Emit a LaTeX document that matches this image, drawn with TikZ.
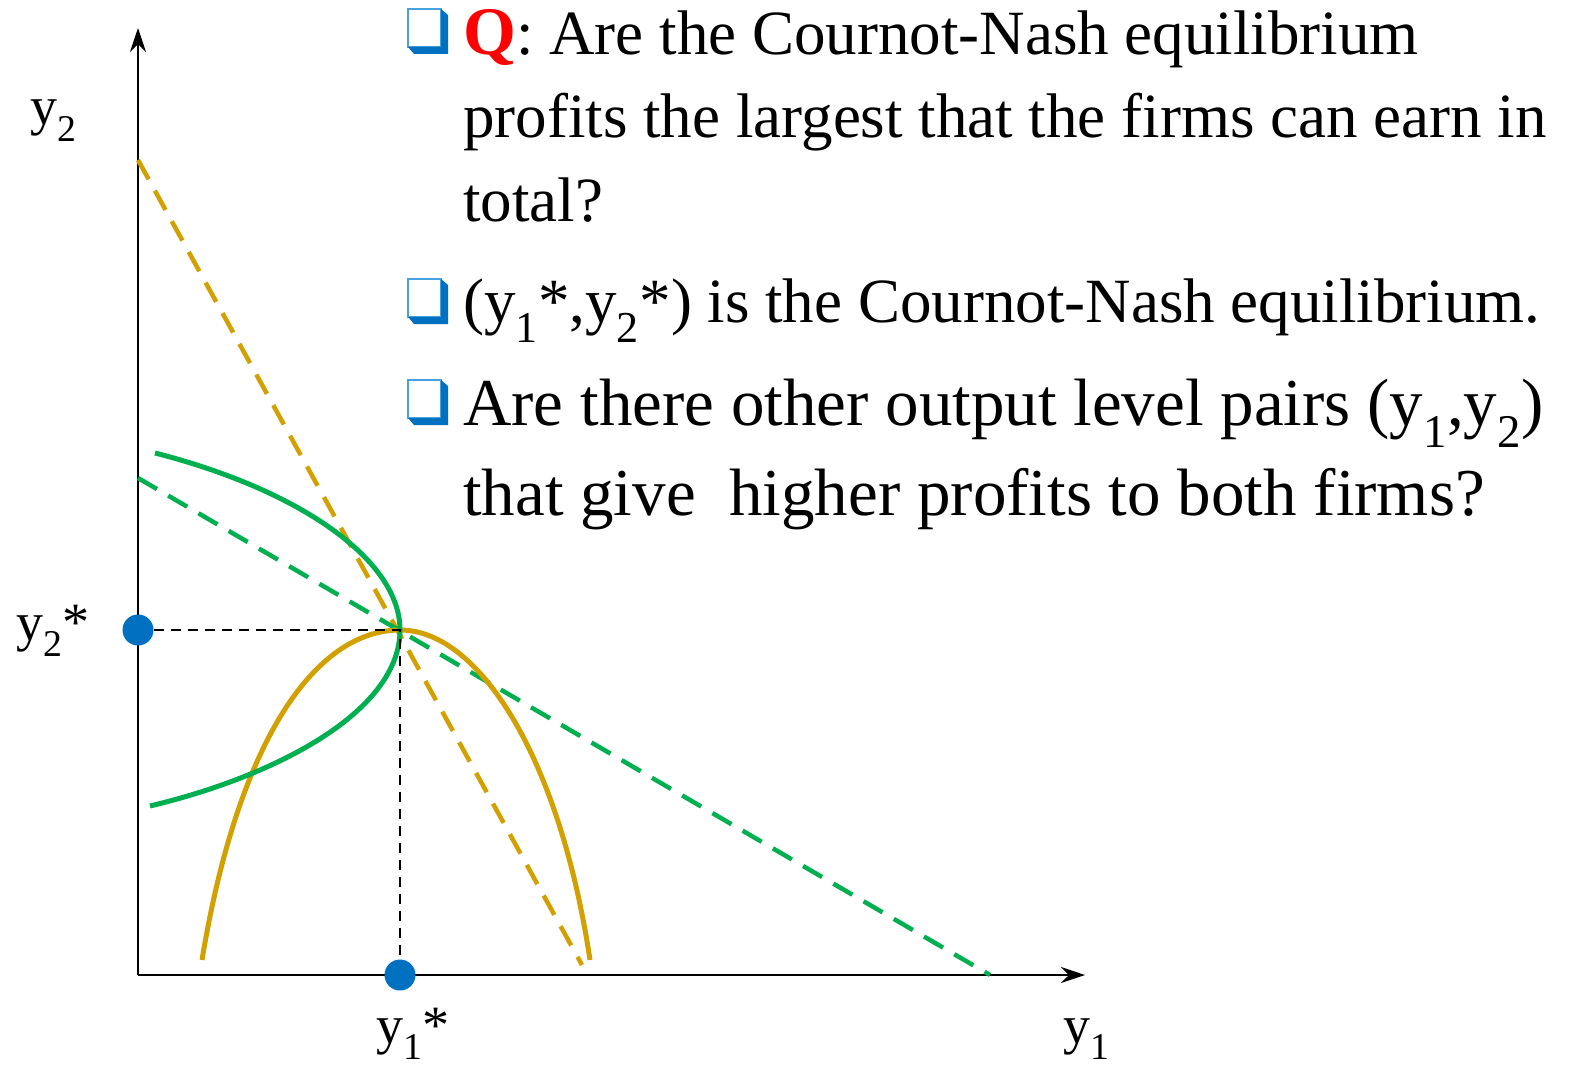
\documentclass[tikz,border=0pt]{standalone}
\usepackage{fontspec}
\setmainfont{Liberation Serif}
\usetikzlibrary{arrows.meta}
\definecolor{cgreen}{RGB}{0,176,80}
\definecolor{corange}{RGB}{210,160,0}
\definecolor{cblue}{RGB}{0,112,192}
\definecolor{clblue}{RGB}{70,160,225}
\begin{document}
\begin{tikzpicture}[x=1pt,y=-1pt,
  axis/.style={line width=2.5pt,-{Stealth[length=24pt,width=16pt,inset=8pt]}},
  guide/.style={line width=2pt,dash pattern=on 10pt off 7pt},
  ldash/.style={line width=4.5pt,dash pattern=on 22pt off 13pt},
  curve/.style={line width=5pt},
  dot/.style={circle,fill=cblue,inner sep=0pt,minimum size=31pt},
  txt/.style={anchor=base west,inner sep=0pt,font=\fontsize{63}{74}\selectfont},
  txtb/.style={anchor=base west,inner sep=0pt,font=\fontsize{67}{78}\selectfont},
  lab/.style={anchor=base west,inner sep=0pt,font=\fontsize{54}{64}\selectfont},
  bul/.pic={
    \fill[white,draw=clblue,line width=2.5pt] (0,0) rectangle (33,38);
    \fill[cblue] (33,0) -- (40,6) -- (40,45) -- (6,45) -- (0,38) -- (33,38) -- cycle;
  }]
\useasboundingbox (0,0) rectangle (1570,1067);
\coordinate (O) at (138,975);
\coordinate (ytip) at (138,28);
\coordinate (xtip) at (1085,975);
\coordinate (E) at (400,630);
\coordinate (oa) at (138,160);
\coordinate (ob) at (582,965);
\coordinate (ga) at (138,478);
\coordinate (gb) at (990,975);
% axes
\draw[axis] (O) -- (ytip);
\draw[axis] (O) -- (xtip);
% dashed lines
\draw[ldash,corange] (oa) -- (ob);
\draw[ldash,cgreen] (ga) -- (gb);
% curves
\draw[curve,corange] (202,960) .. controls (240,730) and (320,630) .. (E) .. controls (480,630) and (560,760) .. (590,960);
\draw[curve,cgreen] (155,453) .. controls (300,490) and (400,560) .. (E) .. controls (400,710) and (280,775) .. (150,806);
% guides and dots
\node[dot] (d2) at (138,630) {};
\node[dot] (d1) at (400,975) {};
\draw[guide] (d2.east) -- (E) -- (d1.north);
% labels
\node[lab] (ly2) at (30,125) {y\textsubscript{2}};
\node[lab] (ly2s) at (16,640) {y\textsubscript{2}*};
\node[lab] (ly1s) at (376,1043) {y\textsubscript{1}*};
\node[lab] (ly1) at (1063,1043) {y\textsubscript{1}};
% bullets
\pic at (408,9) {bul};
\pic at (408,279) {bul};
\pic at (408,380) {bul};
% text
\node[txt] (t1) at (463,55) {\textcolor{red}{\fontsize{68}{74}\selectfont\textbf{Q}}: Are the Cournot-Nash equilibrium};
\node[txt] (t2) at (463,138) {profits the largest that the firms can earn in};
\node[txt] (t3) at (463,222) {total?};
\node[txt] (t4) at (463,322) {(y\textsubscript{1}*,y\textsubscript{2}*) is the Cournot-Nash equilibrium.};
\node[txtb] (t5) at (463,425) {Are there other output level pairs (y\textsubscript{1},y\textsubscript{2})};
\node[txtb] (t6) at (463,515) {that give\ \ higher profits to both firms?};
\end{tikzpicture}
\end{document}
